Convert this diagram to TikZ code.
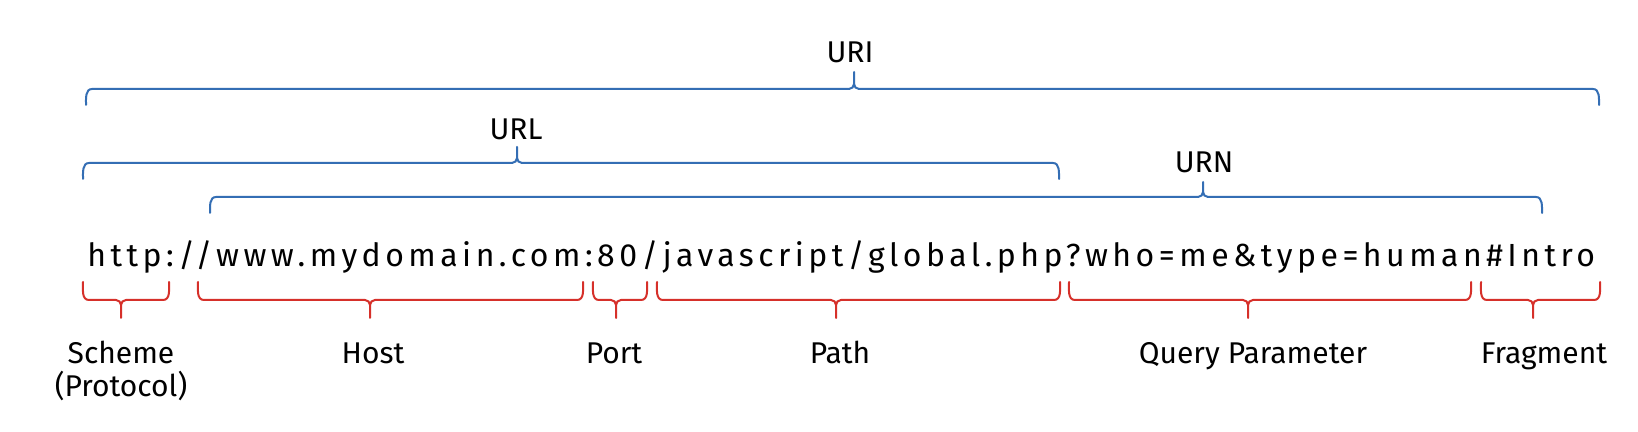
\documentclass[tikz,border=0pt]{standalone}
\usepackage{fontspec}
\setmainfont{Fira Sans}
\newfontfamily\urlfont[LetterSpace=14]{Fira Sans}
\definecolor{bracketblue}{RGB}{52,110,180}
\definecolor{bracketred}{RGB}{214,48,42}
\tikzset{
  bluebrace/.style={draw=bracketblue, line width=1pt, line cap=round},
  redbrace/.style={draw=bracketred, line width=1pt, line cap=round},
  toplabel/.style={anchor=base, inner sep=0pt, font=\fontsize{15}{18}\selectfont},
  partlabel/.style={anchor=base, inner sep=0pt, font=\fontsize{15}{18}\selectfont},
  urltext/.style={anchor=base west, inner sep=0pt, font=\urlfont\fontsize{16}{19}\selectfont}
}
% #1 left x, #2 right x, #3 tip x, #4 line y, #5 end y, #6 tip y
\newcommand\upbrace[6]{%
  \draw[bluebrace] (#1,#5) to[out=90,in=180] (#1+6,#4) -- (#3-5,#4) to[out=0,in=-90] (#3,#4+5) -- (#3,#6);
  \draw[bluebrace] (#2,#5) to[out=90,in=0] (#2-6,#4) -- (#3+5,#4) to[out=180,in=-90] (#3,#4+5);
}
\newcommand\downbrace[6]{%
  \draw[redbrace] (#1,#5) to[out=-90,in=180] (#1+6,#4) -- (#3-5,#4) to[out=0,in=90] (#3,#4-5) -- (#3,#6);
  \draw[redbrace] (#2,#5) to[out=-90,in=0] (#2-6,#4) -- (#3+5,#4) to[out=180,in=90] (#3,#4-5);
}
\begin{document}
\begin{tikzpicture}[x=0.5pt,y=0.5pt]
\useasboundingbox[fill=white] (0,0) rectangle (1638,432);
% blue braces
\upbrace{86}{1599}{854}{343}{327}{360}
\upbrace{83}{1059}{517}{269}{253}{285}
\upbrace{210}{1542}{1203}{235}{219}{250}
\node[toplabel] (uri) at (850,369) {URI};
\node[toplabel] (urllab) at (516,292) {URL};
\node[toplabel] (urn) at (1204,259) {URN};
% the URL
\node[urltext] (url) at (87,165) {http://www.mydomain.com:80/javascript/global.php?who=me\&type=human\#Intro};
% red braces
\downbrace{83}{169}{121}{132}{150}{114}
\downbrace{198}{583}{370}{132}{150}{114}
\downbrace{593}{647}{616}{132}{150}{114}
\downbrace{657}{1060}{836}{132}{150}{114}
\downbrace{1069}{1471}{1248}{132}{150}{114}
\downbrace{1481}{1600}{1533}{132}{150}{114}
\node[partlabel] (scheme) at (121,68) {Scheme};
\node[partlabel] (protocol) at (121,35) {(Protocol)};
\node[partlabel] (host) at (373,68) {Host};
\node[partlabel] (port) at (614,68) {Port};
\node[partlabel] (path) at (840,68) {Path};
\node[partlabel] (query) at (1253,68) {Query Parameter};
\node[partlabel] (fragment) at (1544,68) {Fragment};
\end{tikzpicture}
\end{document}
